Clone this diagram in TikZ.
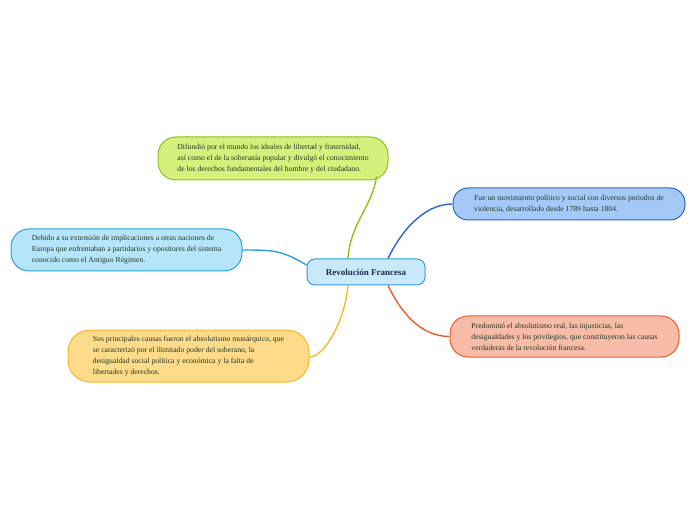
\documentclass[tikz,border=0pt]{standalone}
\usepackage{fontspec}
\setmainfont{Liberation Serif}
\definecolor{txt}{HTML}{263A26}
\definecolor{gfill}{HTML}{D5F07C}\definecolor{gline}{HTML}{8BC21C}
\definecolor{bfill}{HTML}{A5C9F7}\definecolor{bline}{HTML}{2468D4}
\definecolor{lfill}{HTML}{B6E4F8}\definecolor{lline}{HTML}{27A2DE}
\definecolor{sfill}{HTML}{F7BCA8}\definecolor{sline}{HTML}{EF5A2A}
\definecolor{yfill}{HTML}{FDDB8A}\definecolor{yline}{HTML}{F9B82A}
\definecolor{cfill}{HTML}{C7E9FB}\definecolor{cline}{HTML}{3A9AD4}
\definecolor{ctxt}{HTML}{1C2B4A}
\tikzset{
  topic/.style={draw, line width=1pt, rounded corners=18pt, text=txt,
    font=\fontsize{7.7}{11}\selectfont, align=left, inner sep=0pt},
  conn/.style={line width=1.4pt},
}
\begin{document}
\begin{tikzpicture}[x=1pt,y=1pt]
\useasboundingbox (0,0) rectangle (696,520);
\node[draw=cline, fill=cfill, line width=1pt, rounded corners=8pt, minimum width=118pt, minimum height=26pt,
  font=\bfseries\fontsize{9}{11}\selectfont, text=ctxt] (c) at (366,248) {Revolución Francesa};
\node[topic, draw=gline, fill=gfill, minimum width=230pt, minimum height=43pt] (g) at (273,361.5)
  {Difundió por el mundo los ideales de libertad y fraternidad,\\así como el de la soberanía popular y divulgó el conocimiento\\de los derechos fundamentales del hombre y del ciudadano.};
\node[topic, draw=bline, fill=bfill, minimum width=232pt, minimum height=32pt, rounded corners=15pt] (b) at (569,316)
  {Fue un movimiento político y social con diversos periodos de\\violencia, desarrollado desde 1789 hasta 1804.};
\node[topic, draw=lline, fill=lfill, minimum width=231pt, minimum height=42pt] (l) at (126.5,270)
  {Debido a su extensión de implicaciones a otras naciones de\\Europa que enfrentaban a partidarios y opositores del sistema\\conocido como el Antiguo Régimen.};
\node[topic, draw=sline, fill=sfill, minimum width=229pt, minimum height=41pt] (s) at (564.5,183.5)
  {Predominó el absolutismo real, las injusticias, las\\desigualdades y los privilegios, que constituyeron las causas\\verdaderas de la revolución francesa.};
\node[topic, draw=yline, fill=yfill, minimum width=241pt, minimum height=52pt, rounded corners=22pt] (y) at (188.5,164)
  {Sus principales causas fueron el absolutismo monárquico, que\\se caracterizó por el ilimitado poder del soberano, la\\desigualdad social política y económica y la falta de\\libertades y derechos.};
\draw[conn, gline] ([xshift=-18pt]c.north) .. controls +(2pt,35pt) and +(-4pt,-30pt) .. ([xshift=-12pt,yshift=4pt]g.south east);
\draw[conn, bline] ([xshift=22pt]c.north) .. controls +(12pt,25pt) and +(-30pt,0pt) .. (b.west);
\draw[conn, lline] ([yshift=7pt]c.west) .. controls +(-25pt,15pt) and +(30pt,0pt) .. (l.east);
\draw[conn, sline] ([xshift=22pt]c.south) .. controls +(12pt,-25pt) and +(-30pt,0pt) .. (s.west);
\draw[conn, yline] ([xshift=-18pt]c.south) .. controls +(-3pt,-35pt) and +(15pt,0pt) .. ([yshift=-1pt]y.east);
\end{tikzpicture}
\end{document}
